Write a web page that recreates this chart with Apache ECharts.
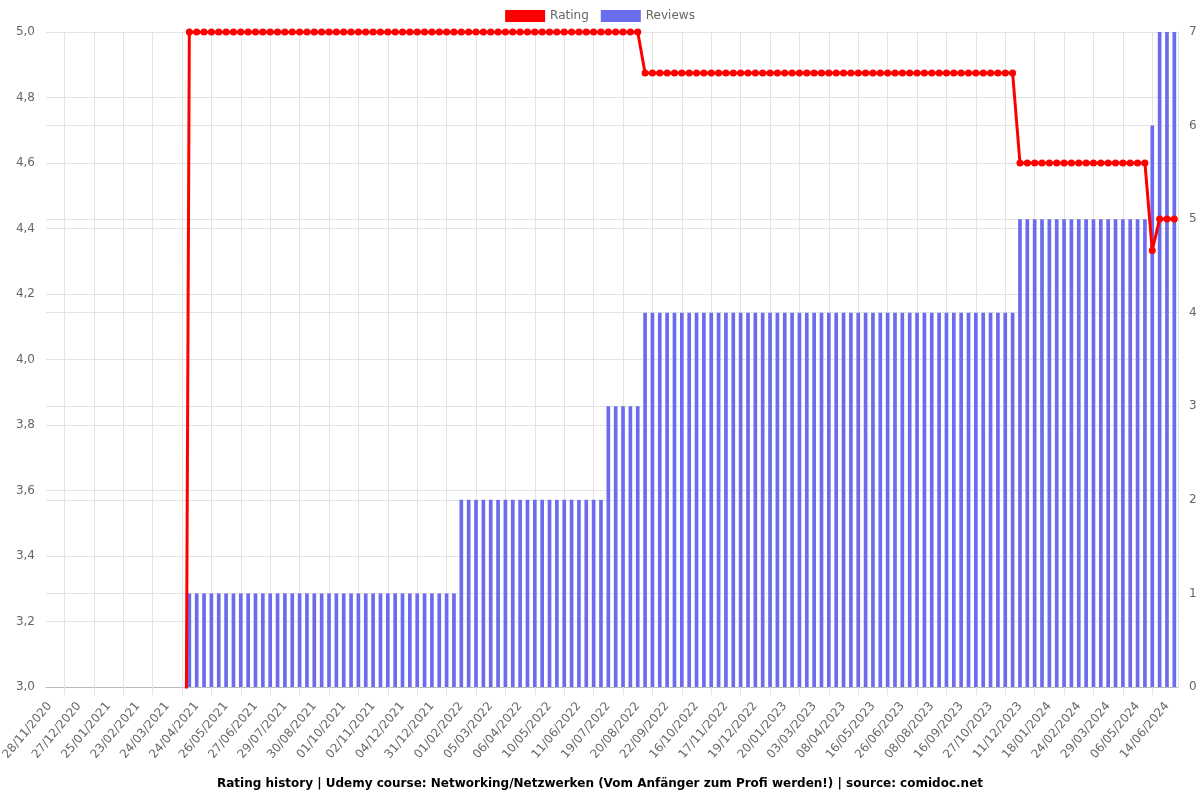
<!DOCTYPE html>
<html>
<head>
<meta charset="utf-8">
<script src="https://cdn.jsdelivr.net/npm/echarts@6/dist/echarts.min.js"></script>
<style>html,body{margin:0;padding:0;background:#fff}#c{width:1200px;height:800px}</style>
</head>
<body>
<div id="c"></div>
<script>
// Tick labels shown on the x axis (every 4th category, starting at the first)
const tickLabels = [
  '28/11/2020','27/12/2020','25/01/2021','23/02/2021','24/03/2021','24/04/2021',
  '26/05/2021','27/06/2021','29/07/2021','30/08/2021','01/10/2021','02/11/2021',
  '04/12/2021','31/12/2021','01/02/2022','05/03/2022','06/04/2022','10/05/2022',
  '11/06/2022','19/07/2022','20/08/2022','22/09/2022','16/10/2022','17/11/2022',
  '19/12/2022','20/01/2023','03/03/2023','08/04/2023','16/05/2023','26/06/2023',
  '08/08/2023','16/09/2023','27/10/2023','11/12/2023','18/01/2024','24/02/2024',
  '29/03/2024','06/05/2024','14/06/2024'
];

// Rating values per category (0 = no rating yet, below the visible range)
const ratings = [
  0,0,0,0,0,0,0,0,0,0,
  0,0,0,0,0,0,0,0,0,5,
  5,5,5,5,5,5,5,5,5,5,
  5,5,5,5,5,5,5,5,5,5,
  5,5,5,5,5,5,5,5,5,5,
  5,5,5,5,5,5,5,5,5,5,
  5,5,5,5,5,5,5,5,5,5,
  5,5,5,5,5,5,5,5,5,5,
  5,4.875,4.875,4.875,4.875,4.875,4.875,4.875,4.875,4.875,
  4.875,4.875,4.875,4.875,4.875,4.875,4.875,4.875,4.875,4.875,
  4.875,4.875,4.875,4.875,4.875,4.875,4.875,4.875,4.875,4.875,
  4.875,4.875,4.875,4.875,4.875,4.875,4.875,4.875,4.875,4.875,
  4.875,4.875,4.875,4.875,4.875,4.875,4.875,4.875,4.875,4.875,
  4.875,4.875,4.6,4.6,4.6,4.6,4.6,4.6,4.6,4.6,
  4.6,4.6,4.6,4.6,4.6,4.6,4.6,4.6,4.6,4.6,
  4.333,4.429,4.429,4.429
];

// Number of reviews per category
const reviews = [
  0,0,0,0,0,0,0,0,0,0,
  0,0,0,0,0,0,0,0,0,1,
  1,1,1,1,1,1,1,1,1,1,
  1,1,1,1,1,1,1,1,1,1,
  1,1,1,1,1,1,1,1,1,1,
  1,1,1,1,1,1,2,2,2,2,
  2,2,2,2,2,2,2,2,2,2,
  2,2,2,2,2,2,3,3,3,3,
  3,4,4,4,4,4,4,4,4,4,
  4,4,4,4,4,4,4,4,4,4,
  4,4,4,4,4,4,4,4,4,4,
  4,4,4,4,4,4,4,4,4,4,
  4,4,4,4,4,4,4,4,4,4,
  4,4,5,5,5,5,5,5,5,5,
  5,5,5,5,5,5,5,5,5,5,
  6,7,7,7
];

const N = ratings.length;
const categories = ratings.map((_, i) => (i % 4 === 0 ? tickLabels[i / 4] : ''));
// helper axis whose points fall on category centres (2i+1) for grid lines
const halfSteps = Array.from({ length: 2 * N + 1 }, (_, j) => String(j));

const FONT = 'DejaVu Sans';
const gridColor = '#e4e4e4';
const chart = echarts.init(document.getElementById('c'));
chart.setOption({
  animation: false,
  textStyle: { fontFamily: FONT },
  title: {
    text: 'Rating history | Udemy course: Networking/Netzwerken (Vom Anfänger zum Profi werden!) | source: comidoc.net',
    left: 'center',
    bottom: 5,
    textStyle: { fontSize: 12, fontWeight: 'bold', color: '#000', fontFamily: FONT }
  },
  legend: {
    top: 5,
    left: 'center',
    itemWidth: 40,
    itemHeight: 12,
    itemGap: 12,
    textStyle: { fontSize: 12, color: '#666', fontFamily: FONT },
    data: [{ name: 'Rating', icon: 'rect' }, { name: 'Reviews', icon: 'rect' }]
  },
  grid: { left: 46, right: 22, top: 32, bottom: 113, containLabel: false, outerBoundsMode: 'none' },
  xAxis: [
    {
      type: 'category',
      data: categories,
      boundaryGap: true,
      axisLine: { show: true, lineStyle: { color: '#bbbbbb' } },
      axisTick: { show: true, alignWithLabel: true, interval: (i) => i % 4 === 2, length: 8, lineStyle: { color: gridColor } },
      axisLabel: { interval: (i) => i % 4 === 0, rotate: 50, color: '#666', fontSize: 12, margin: 17, fontFamily: FONT },
      splitLine: { show: false }
    },
    {
      type: 'category',
      position: 'top',
      data: halfSteps,
      boundaryGap: false,
      axisLine: { show: false },
      axisTick: { show: false },
      axisLabel: { show: false },
      splitLine: { show: true, interval: (j) => j % 8 === 5, lineStyle: { color: gridColor } }
    }
  ],
  yAxis: [
    {
      type: 'value', position: 'left', min: 3, max: 5, interval: 0.2,
      axisLine: { show: false }, axisTick: { show: false },
      axisLabel: { color: '#666', fontSize: 12, margin: 11, fontFamily: FONT, formatter: (v) => v.toFixed(1).replace('.', ',') },
      splitLine: { lineStyle: { color: gridColor } }
    },
    {
      type: 'value', position: 'right', min: 0, max: 7, interval: 1,
      axisLine: { show: true, lineStyle: { color: gridColor } }, axisTick: { show: false },
      axisLabel: { color: '#666', fontSize: 12, margin: 11, fontFamily: FONT },
      splitLine: { lineStyle: { color: gridColor } }
    }
  ],
  series: [
    {
      name: 'Reviews', type: 'bar', xAxisIndex: 0, yAxisIndex: 1,
      data: reviews, barWidth: '50%',
      itemStyle: { color: '#6b6bef' }
    },
    {
      name: 'Rating', type: 'line', xAxisIndex: 0, yAxisIndex: 0,
      data: ratings, symbol: 'circle', symbolSize: 7, showAllSymbol: true,
      lineStyle: { color: '#ff0000', width: 3 },
      itemStyle: { color: '#ff0000' },
      z: 3
    }
  ]
});
</script>
</body>
</html>
